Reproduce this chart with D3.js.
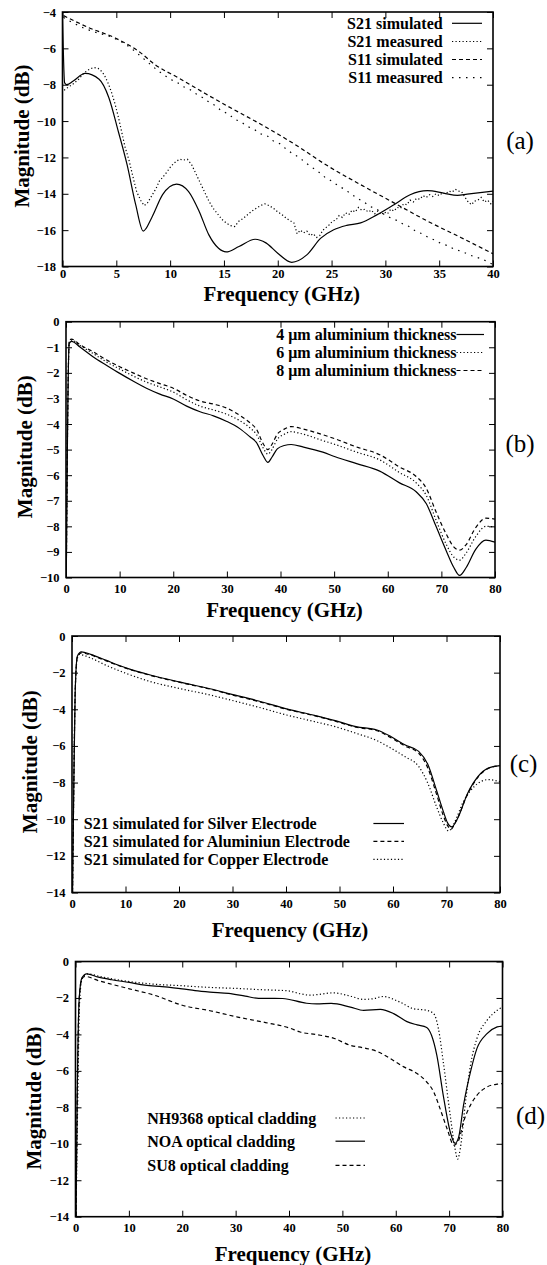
<!DOCTYPE html>
<html><head><meta charset="utf-8">
<script src="https://cdn.jsdelivr.net/npm/d3@7"></script>
<style>
body{margin:0;background:#fff;}
svg text{font-family:"Liberation Serif","Times New Roman",serif;fill:#000;}
</style></head><body>
<svg id="chart" width="547" height="1265"></svg>
<script>
// ---------- Panel (a) data: [frequency GHz, magnitude dB] ----------
const aS21Sim = [[0,-4.2],[0.2,-7.9],[0.4,-8.0],[1,-7.8],[2.1,-7.38],[3.4,-7.7],[4.3,-8.7],[5.2,-10.6],[6.0,-12.4],[6.8,-14.6],[7.5,-16.05],[8.3,-15.3],[9.3,-14.05],[10.6,-13.47],[11.7,-13.87],[12.7,-14.97],[13.6,-16.26],[14.5,-17.0],[15.2,-17.2],[16.4,-16.9],[17.9,-16.5],[18.9,-16.7],[20.0,-17.27],[21.3,-17.77],[22.7,-17.36],[24.0,-16.44],[25.2,-15.98],[26.4,-15.74],[27.7,-15.6],[29.2,-15.16],[30.8,-14.6],[32.3,-14.05],[33.9,-13.83],[35.4,-13.96],[36.7,-14.09],[37.6,-14.02],[38.4,-13.96],[40,-13.85]];
const aS21Meas = [[0.15,-8.3],[0.5,-8.15],[1.0,-7.95],[1.5,-7.7],[2.0,-7.35],[2.5,-7.15],[2.9,-7.05],[3.3,-7.1],[3.7,-7.3],[4.0,-7.6],[4.3,-8.0],[4.6,-8.5],[4.9,-9.1],[5.2,-9.8],[5.5,-10.6],[5.8,-11.4],[6.2,-12.2],[6.6,-13.2],[6.9,-13.9],[7.3,-14.4],[7.6,-14.65],[7.9,-14.5],[8.3,-14.1],[8.7,-13.7],[9.0,-13.3],[9.3,-13.1],[9.7,-12.8],[10.0,-12.55],[10.3,-12.35],[10.6,-12.2],[10.9,-12.1],[11.2,-12.15],[11.6,-12.1],[12.0,-12.4],[12.4,-12.9],[12.8,-13.4],[13.2,-13.9],[13.6,-14.4],[14.0,-14.8],[14.4,-15.1],[14.8,-15.4],[15.2,-15.6],[15.6,-15.75],[16.0,-15.8],[16.4,-15.5],[16.8,-15.35],[17.2,-15.15],[17.6,-14.95],[18.0,-14.8],[18.4,-14.65],[18.8,-14.55],[19.2,-14.65],[19.6,-14.8],[20.0,-15.0],[20.4,-15.15],[20.8,-15.35],[21.2,-15.5],[21.5,-15.6],[21.8,-16.2],[22.1,-16.0],[22.4,-16.15],[22.7,-16.05],[23.0,-16.3],[23.3,-16.2],[23.6,-16.4],[23.9,-16.3],[24.2,-16.0],[24.5,-15.85],[24.8,-15.7],[25.1,-15.5],[25.4,-15.45],[25.7,-15.2],[26.0,-15.3],[26.3,-15.05],[26.6,-15.15],[26.9,-14.9],[27.2,-15.0],[27.5,-14.75],[27.8,-14.9],[28.1,-14.85],[28.4,-15.0],[28.7,-14.9],[29.0,-15.1],[29.3,-14.95],[29.6,-15.15],[29.9,-15.0],[30.2,-15.1],[30.5,-14.85],[30.8,-14.95],[31.1,-14.75],[31.4,-14.8],[31.7,-14.55],[32.0,-14.6],[32.3,-14.35],[32.6,-14.45],[32.9,-14.25],[33.2,-14.3],[33.5,-14.1],[33.8,-14.2],[34.1,-14.05],[34.4,-14.15],[34.7,-14.0],[35.0,-14.1],[35.3,-13.95],[35.6,-14.0],[35.9,-13.85],[36.2,-13.9],[36.5,-13.75],[36.8,-13.85],[37.1,-13.9],[37.4,-14.2],[37.7,-14.45],[38.0,-14.6],[38.3,-14.4],[38.6,-14.35],[38.9,-14.2],[39.2,-14.45],[39.5,-14.35],[39.8,-14.55],[40.0,-14.4]];
const aS11Sim = [[0.1,-4.2],[2.4,-4.85],[4.9,-5.43],[7.1,-6.17],[8.6,-6.9],[10.8,-7.63],[13.3,-8.5],[15.4,-9.2],[18.5,-10.2],[21.5,-11.25],[24.6,-12.45],[27.7,-13.5],[30.8,-14.5],[33.9,-15.5],[37,-16.4],[40,-17.3]];
const aS11Meas = [[0.1,-4.3],[0.8,-4.55],[1.5,-4.75],[2.2,-4.95],[2.8,-5.05],[3.4,-5.2],[4.0,-5.25],[4.6,-5.4],[5.2,-5.55],[5.8,-5.75],[6.4,-6.0],[7.0,-6.3],[7.6,-6.6],[8.2,-6.9],[8.8,-7.2],[9.4,-7.45],[10.0,-7.7],[10.6,-7.85],[11.2,-8.1],[11.8,-8.25],[12.4,-8.5],[13.0,-8.7],[13.6,-8.95],[14.2,-9.15],[14.8,-9.45],[15.4,-9.6],[16.0,-9.9],[16.6,-10.05],[17.2,-10.3],[17.8,-10.45],[18.4,-10.7],[19.0,-10.8],[19.6,-11.1],[20.2,-11.25],[20.8,-11.55],[21.4,-11.8],[22.0,-12.0],[22.6,-12.3],[23.2,-12.55],[23.8,-12.8],[24.4,-13.1],[25.0,-13.3],[25.6,-13.55],[26.2,-13.75],[26.8,-14.0],[27.4,-14.25],[28.0,-14.45],[28.6,-14.7],[29.2,-14.85],[29.8,-15.1],[30.4,-15.3],[31.0,-15.45],[31.6,-15.65],[32.2,-15.8],[32.8,-16.05],[33.4,-16.2],[34.0,-16.4],[34.6,-16.55],[35.2,-16.75],[35.8,-16.85],[36.4,-17.05],[37.0,-17.15],[37.6,-17.3],[38.2,-17.45],[38.8,-17.55],[39.4,-17.7],[40.0,-17.9]];
const aLabels = ["S21 simulated","S21 measured","S11 simulated","S11 measured"];

// ---------- Panel (b) data ----------
const b4um = [[0.05,-10],[0.3,-4],[0.6,-0.85],[1.05,-0.77],[2.6,-0.99],[5.1,-1.38],[7.6,-1.71],[10.1,-2.03],[12.5,-2.32],[15,-2.6],[17.5,-2.83],[20,-3.02],[22.5,-3.3],[25,-3.52],[27.5,-3.68],[30,-3.9],[32.4,-4.18],[34.3,-4.5],[35.5,-4.72],[36.8,-5.25],[37.65,-5.5],[38.4,-5.3],[39.4,-4.97],[40.7,-4.84],[42,-4.8],[44.3,-4.9],[47.9,-5.1],[50.2,-5.28],[54.2,-5.55],[58.5,-5.84],[62.2,-6.3],[65.3,-6.65],[67.2,-7.12],[69.0,-8.0],[70.9,-8.95],[72.3,-9.6],[73.4,-9.92],[74.6,-9.62],[76.4,-8.9],[78.3,-8.54],[80,-8.62]];
const b6um = [[0.05,-10],[0.3,-4],[0.6,-0.8],[1.0,-0.72],[2.6,-0.93],[5.1,-1.25],[7.6,-1.58],[10.1,-1.86],[12.5,-2.12],[15,-2.36],[17.5,-2.55],[20,-2.75],[22.5,-3.05],[25,-3.3],[27.5,-3.45],[30,-3.62],[32.4,-3.87],[34.3,-4.15],[35.5,-4.4],[36.8,-4.95],[37.65,-5.18],[38.4,-5.0],[39.4,-4.6],[40.7,-4.4],[42,-4.3],[44.3,-4.4],[47.9,-4.65],[50.2,-4.8],[54.2,-5.1],[58.5,-5.4],[62.2,-5.9],[65.3,-6.3],[67.2,-6.8],[69,-7.75],[70.9,-8.7],[72.3,-9.2],[73.4,-9.32],[74.6,-9.05],[76.4,-8.4],[78.3,-8.0],[80,-8.02]];
const b8um = [[0.05,-10],[0.3,-4],[0.6,-0.75],[1.0,-0.68],[2.6,-0.9],[5.1,-1.18],[7.6,-1.5],[10.1,-1.77],[12.5,-2.0],[15,-2.23],[17.5,-2.42],[20,-2.6],[22.5,-2.88],[25,-3.1],[27.5,-3.22],[30,-3.38],[32.4,-3.66],[34.3,-3.95],[35.5,-4.2],[36.8,-4.78],[37.65,-5.0],[38.4,-4.8],[39.4,-4.4],[40.7,-4.2],[42,-4.1],[44.3,-4.2],[47.9,-4.42],[50.2,-4.58],[54.2,-4.9],[58.5,-5.2],[62.2,-5.68],[65.3,-6.05],[67.2,-6.52],[69,-7.43],[70.9,-8.3],[72.3,-8.8],[73.4,-8.93],[74.6,-8.72],[76.4,-8.05],[78.3,-7.68],[80,-7.72]];
const bLabels = ["4 \u03bcm aluminium thickness","6 \u03bcm aluminium thickness","8 \u03bcm aluminium thickness"];

// ---------- Panel (c) data ----------
const cSilver = [[0.1,-14],[0.3,-9],[0.6,-3],[1.0,-1.1],[1.75,-0.87],[3.5,-1.0],[6.3,-1.32],[10.2,-1.75],[14.8,-2.14],[20,-2.5],[25.8,-2.88],[29.7,-3.17],[34.9,-3.55],[40.1,-3.98],[45.3,-4.33],[49.2,-4.62],[53.1,-4.95],[57,-5.13],[59.6,-5.49],[62.2,-5.94],[64.8,-6.3],[66.5,-7.0],[68.1,-8.39],[69.4,-9.57],[70.2,-10.2],[71.0,-10.42],[72,-10.0],[74,-8.55],[75.9,-7.66],[77.8,-7.21],[80,-7.07]];
const cAluminium = [[0.1,-14],[0.3,-9],[0.6,-3],[1.0,-1.15],[1.75,-0.92],[3.5,-1.04],[6.3,-1.35],[10.2,-1.77],[14.8,-2.16],[20,-2.52],[25.8,-2.9],[29.7,-3.2],[34.9,-3.58],[40.1,-4.0],[45.3,-4.35],[49.2,-4.65],[53.1,-4.98],[57,-5.17],[59.6,-5.55],[62.2,-6.0],[64.8,-6.4],[66.5,-7.2],[68.1,-8.6],[69.4,-9.8],[70.2,-10.35],[70.8,-10.55],[71.8,-10.1],[74,-8.6],[75.9,-7.7],[77.8,-7.23],[80,-7.08]];
const cCopper = [[0.1,-14],[0.3,-9],[0.6,-3],[1.0,-1.2],[1.4,-1.01],[3.5,-1.2],[6.3,-1.59],[10.2,-2.05],[14.8,-2.5],[20,-2.86],[25.8,-3.22],[29.7,-3.5],[34.9,-3.89],[40.1,-4.31],[45.3,-4.67],[49.2,-4.95],[53.1,-5.31],[57,-5.71],[59.6,-6.12],[62.2,-6.58],[64.8,-7.12],[66.5,-8.03],[68.1,-9.29],[69.4,-10.2],[70.4,-10.65],[71.3,-10.29],[73.2,-9.02],[75.2,-8.21],[77.8,-7.84],[80,-7.95]];
const cLabels = ["S21 simulated for Silver Electrode","S21 simulated for Aluminiun Electrode","S21 simulated for Copper Electrode"];

// ---------- Panel (d) data ----------
const dNH9368 = [[0.1,-14],[0.4,-8],[0.8,-2],[1.3,-0.9],[2.3,-0.68],[4.3,-0.8],[6.8,-0.95],[10.1,-1.1],[15,-1.25],[20,-1.33],[25,-1.42],[30.4,-1.48],[35,-1.55],[38,-1.58],[40.1,-1.62],[42.1,-1.77],[44,-1.85],[45.2,-1.82],[48.3,-1.72],[51.5,-1.9],[54,-2.08],[55.8,-2.04],[57.6,-1.92],[60.8,-2.23],[63.3,-2.59],[65.8,-2.68],[67.1,-2.86],[68,-3.69],[68.9,-5.51],[70.2,-8.43],[71.1,-10.26],[71.6,-10.84],[72.1,-10.26],[73,-7.88],[74,-5.69],[75.2,-4.23],[77.1,-3.23],[79,-2.68],[80,-2.5]];
const dNOA = [[0.1,-14],[0.3,-8],[0.7,-2],[1.2,-0.9],[2.1,-0.68],[4.3,-0.86],[6.8,-1.0],[10.1,-1.15],[13,-1.3],[16.2,-1.38],[20,-1.5],[22.4,-1.6],[25.2,-1.68],[28.7,-1.75],[31.8,-1.9],[34.3,-2.02],[38.8,-2.03],[43.3,-2.29],[45.2,-2.32],[47.9,-2.3],[51.5,-2.5],[54,-2.68],[57.1,-2.63],[59.6,-2.86],[62.1,-3.3],[64,-3.48],[65.8,-3.62],[66.7,-4.05],[67.7,-5.15],[68.9,-7.34],[70.2,-9.34],[71.1,-9.98],[71.8,-9.62],[72.7,-7.88],[74,-6.06],[75.2,-4.78],[77.1,-3.96],[79,-3.59],[80,-3.54]];
const dSU8 = [[0.1,-14],[0.3,-8],[0.7,-2],[1.2,-0.95],[1.8,-0.82],[4.3,-1.05],[6.8,-1.25],[10.1,-1.5],[14.8,-1.85],[20,-2.4],[25.2,-2.7],[30.4,-3.05],[35.6,-3.35],[40.1,-3.65],[42.1,-3.87],[45.2,-4.01],[48.3,-4.2],[51.5,-4.6],[54,-4.74],[56.5,-4.93],[59,-5.33],[61.5,-5.78],[64,-6.15],[65.8,-6.61],[67.1,-7.15],[68.3,-8.07],[69.6,-9.16],[70.9,-10.07],[71.8,-9.8],[72.7,-8.8],[74,-7.88],[75.2,-7.34],[77.1,-6.88],[79,-6.73],[80,-6.7]];
const dLabels = ["NH9368 optical cladding","NOA optical cladding","SU8 optical cladding"];

// ---------- shared ----------
const xTitle = "Frequency (GHz)";
const yTitle = "Magnitude (dB)";
const panelTags = ["(a)","(b)","(c)","(d)"];

const SOLID = null, DOTTED = "1.2,2.3", DASHED = "4,3", SPARSE = "1.5,5.5";
const linear = d3.curveLinear, smooth = d3.curveMonotoneX;

const panels = [
  {id:"a", left:62.5, right:493, top:12, bottom:266.5, xd:[0,40], yd:[-18,-4], xs:5, ys:2, xpad:2.5,
   series:[{d:aS21Sim,dash:SOLID,c:smooth},{d:aS21Meas,dash:DOTTED,c:linear},{d:aS11Sim,dash:DASHED,c:smooth},{d:aS11Meas,dash:SPARSE,c:linear}],
   labels:aLabels, legend:{anchor:"end", tx:442.7, l1:452, l2:482, rows:[23.3,41.5,59.5,77.7]},
   xt:294, ytx:21.8, yty:136, tag:[520,140]},
  {id:"b", left:66, right:495, top:321.7, bottom:577.5, xd:[0,80], yd:[-10,0], xs:10, ys:1, xpad:6.5,
   series:[{d:b4um,dash:SOLID,c:smooth},{d:b6um,dash:DOTTED,c:smooth},{d:b8um,dash:DASHED,c:smooth}],
   labels:bLabels, legend:{anchor:"end", tx:456.5, l1:456.5, l2:484, rows:[334.5,352.5,370.5]},
   xt:610, ytx:24.4, yty:446.7, tag:[520,443.3]},
  {id:"c", left:72, right:500, top:636, bottom:892.5, xd:[0,80], yd:[-14,0], xs:10, ys:2, xpad:6.5,
   series:[{d:cSilver,dash:SOLID,c:smooth},{d:cAluminium,dash:DASHED,c:smooth},{d:cCopper,dash:DOTTED,c:smooth}],
   labels:cLabels, legend:{anchor:"start", tx:83.8, l1:373.4, l2:404, rows:[823.5,841.3,859.3]},
   xt:930, ytx:30, yty:761.7, tag:[523.5,763.3]},
  {id:"d", left:75.5, right:502.5, top:961.5, bottom:1216.7, xd:[0,80], yd:[-14,0], xs:10, ys:2, xpad:6.5,
   series:[{d:dNH9368,dash:DOTTED,c:smooth},{d:dNOA,dash:SOLID,c:smooth},{d:dSU8,dash:DASHED,c:smooth}],
   labels:dLabels, legend:{anchor:"start", tx:147.3, l1:335.5, l2:365, rows:[1118,1141.2,1165.4]},
   xt:1253.3, ytx:33.8, yty:1098, tag:[530.5,1115]}
];

const svg = d3.select("#chart");
const defs = svg.append("defs");

function styleAxis(g){
  g.attr("font-family","'Liberation Serif','Times New Roman',serif")
   .attr("font-size",12.5).attr("font-weight","bold");
  g.select(".domain").remove();
  g.selectAll(".tick line").attr("stroke","#000").attr("stroke-width",1);
  g.selectAll(".tick text").attr("fill","#000");
}

panels.forEach((p,i)=>{
  const x = d3.scaleLinear().domain(p.xd).range([p.left,p.right]);
  const y = d3.scaleLinear().domain(p.yd).range([p.bottom,p.top]);
  const g = svg.append("g");
  const clipId = "clip-"+p.id;
  defs.append("clipPath").attr("id",clipId).append("rect")
    .attr("x",p.left).attr("y",p.top).attr("width",p.right-p.left).attr("height",p.bottom-p.top);

  const xt = d3.range(p.xd[0], p.xd[1]+1e-6, p.xs);
  const yt = d3.range(p.yd[0], p.yd[1]+1e-6, p.ys);
  g.append("g").attr("transform",`translate(0,${p.bottom})`)
    .call(d3.axisBottom(x).tickValues(xt).tickSize(-6).tickPadding(p.xpad)).call(styleAxis);
  g.append("g").attr("transform",`translate(0,${p.top})`)
    .call(d3.axisTop(x).tickValues(xt).tickSize(-6).tickFormat("")).call(styleAxis);
  g.append("g").attr("transform",`translate(${p.left},0)`)
    .call(d3.axisLeft(y).tickValues(yt).tickSize(-6).tickPadding(6.5)).call(styleAxis);
  g.append("g").attr("transform",`translate(${p.right},0)`)
    .call(d3.axisRight(y).tickValues(yt).tickSize(-6).tickFormat("")).call(styleAxis);

  const curves = g.append("g").attr("clip-path",`url(#${clipId})`);
  p.series.forEach(s=>{
    curves.append("path").datum(s.d)
      .attr("fill","none").attr("stroke","#000").attr("stroke-width",1.2)
      .attr("stroke-dasharray",s.dash)
      .attr("d", d3.line().x(d=>x(d[0])).y(d=>y(d[1])).curve(s.c));
  });

  g.append("rect").attr("x",p.left).attr("y",p.top)
    .attr("width",p.right-p.left).attr("height",p.bottom-p.top)
    .attr("fill","none").attr("stroke","#000").attr("stroke-width",1.6);

  // legend
  const lg = g.append("g");
  p.labels.forEach((lab,k)=>{
    const ry = p.legend.rows[k];
    lg.append("text").attr("x",p.legend.tx).attr("y",ry).attr("dy","0.35em")
      .attr("text-anchor",p.legend.anchor).attr("font-size",16).attr("font-weight","bold").text(lab);
    lg.append("line").attr("x1",p.legend.l1).attr("x2",p.legend.l2).attr("y1",ry).attr("y2",ry)
      .attr("stroke","#000").attr("stroke-width",1.2).attr("stroke-dasharray",p.series[k].dash);
  });

  // titles
  g.append("text").attr("x",(p.left+p.right)/2+4).attr("y",p.xt).attr("dy","0.35em")
    .attr("text-anchor","middle").attr("font-size",21).attr("font-weight","bold").text(xTitle);
  g.append("text").attr("transform",`translate(${p.ytx},${p.yty}) rotate(-90)`).attr("dy","0.35em")
    .attr("text-anchor","middle").attr("font-size",21).attr("font-weight","bold").text(yTitle);
  g.append("text").attr("x",p.tag[0]).attr("y",p.tag[1]).attr("dy","0.35em")
    .attr("text-anchor","middle").attr("font-size",25).text(panelTags[i]);
});
</script>
</body></html>
